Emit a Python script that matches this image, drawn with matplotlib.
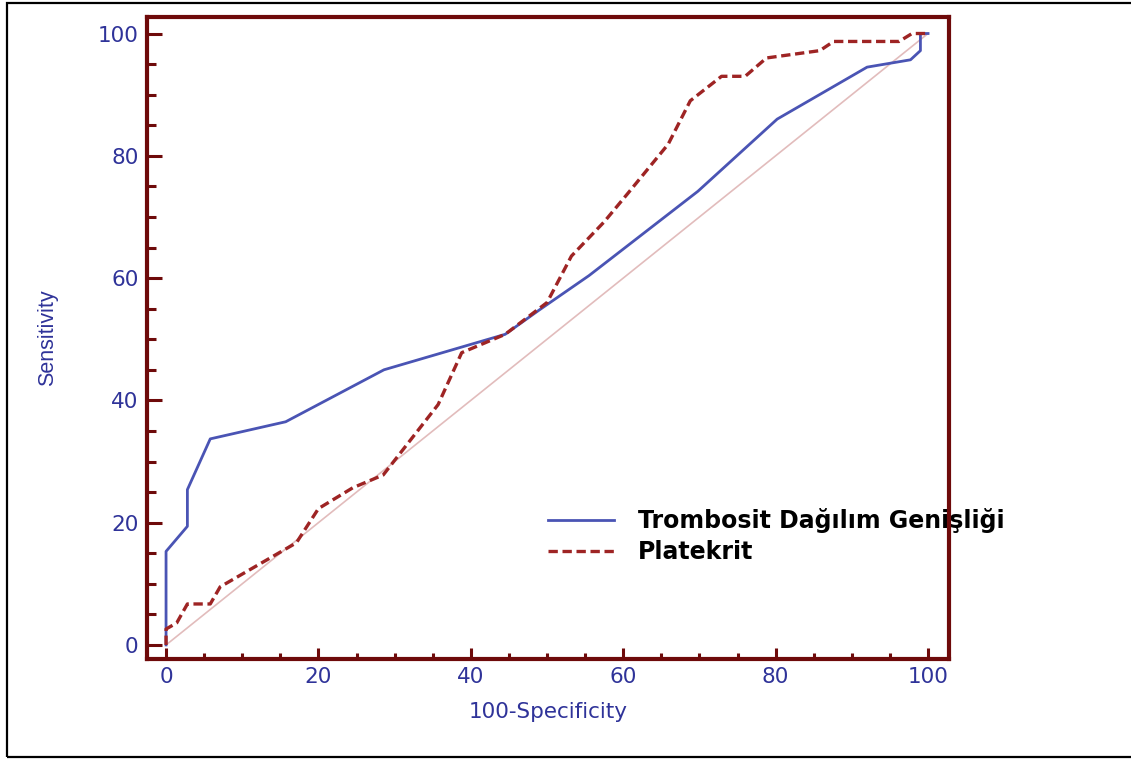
import matplotlib
matplotlib.use("Agg")
import matplotlib.pyplot as plt
from matplotlib.patches import Rectangle
from matplotlib.ticker import MultipleLocator

# ROC curve points (100-Specificity, Sensitivity)
tdg_x = [0, 0, 2.8, 2.8, 5.8, 15.7, 28.6, 44.5, 49, 55.5, 69.8, 80.2, 92, 97.7, 99, 99, 100]
tdg_y = [0, 15.3, 19.4, 25.4, 33.7, 36.5, 45, 50.8, 54.8, 60.4, 74.2, 86, 94.5, 95.7, 97.2, 100, 100]

pct_x = [0, 0, 1.4, 2.8, 5.8, 7.1, 17.1, 20, 24.5, 28.5, 35.7, 38.8, 44.5, 50, 53.2,
         57.5, 60.7, 65.9, 68.8, 72.9, 76, 78.8, 85.8, 87.6, 96.2, 97.9, 100]
pct_y = [0, 2.6, 3.6, 6.7, 6.7, 9.5, 16.7, 22.3, 25.7, 27.8, 39.3, 47.8, 50.8, 56, 63.6,
         69.2, 74, 81.9, 89, 93, 93, 96, 97.2, 98.7, 98.7, 100, 100]

ref_x = [0, 100]
ref_y = [0, 100]

labels = ["Trombosit Dağılım Genişliği", "Platekrit"]
xticks = [0, 20, 40, 60, 80, 100]
yticks = [0, 20, 40, 60, 80, 100]

spine_col = "#6e0a0a"
text_col = "#2f3399"

fig = plt.figure(figsize=(11.31, 7.6), dpi=100)
ax = fig.add_axes([147 / 1131, 1 - 659 / 760, (949 - 147) / 1131, (659 - 17) / 760])

ax.plot(ref_x, ref_y, color="#e2bcbc", lw=1.2, zorder=1)
ax.plot(tdg_x, tdg_y, color="#4a54b4", lw=2.0, label=labels[0], zorder=3)
ax.plot(pct_x, pct_y, color="#9e2424", lw=2.4, ls=(0, (2.8, 1.4)), label=labels[1], zorder=3)

ax.set_xlim(-2.5, 102.75)
ax.set_ylim(-2.3, 102.7)
ax.set_xticks(xticks)
ax.set_yticks(yticks)
ax.xaxis.set_minor_locator(MultipleLocator(5))
ax.yaxis.set_minor_locator(MultipleLocator(5))

for s in ax.spines.values():
    s.set_color(spine_col)
    s.set_linewidth(3.0)

ax.tick_params(axis="both", which="both", direction="in", color=spine_col, width=2.2,
               labelcolor=text_col, labelsize=15.5)
ax.tick_params(axis="y", which="major", length=10.5, pad=6)
ax.tick_params(axis="y", which="minor", length=6.5)
ax.tick_params(axis="x", which="major", length=8, pad=6)
ax.tick_params(axis="x", which="minor", length=4.3)
for t in ax.get_xticklabels() + ax.get_yticklabels():
    t.set_family("DejaVu Sans")

fig.text(548 / 1131, 1 - 712 / 760, "100-Specificity", ha="center", va="center",
         color=text_col, fontsize=15.5, family="DejaVu Sans")
fig.text(48 / 1131, 1 - 338 / 760, "Sensitivity", ha="center", va="center", rotation=90,
         color=text_col, fontsize=15.5, family="Liberation Sans")

leg = ax.legend(loc="upper left", bbox_to_anchor=(548 / 1131, 1 - 508 / 760),
                bbox_transform=fig.transFigure, frameon=False, borderpad=0, borderaxespad=0,
                handlelength=2.8, handletextpad=1.0, labelspacing=0.3,
                prop={"family": "DejaVu Sans", "weight": "bold", "size": 17})
leg.set_zorder(2)

# outer frame around the picture
fig.add_artist(Rectangle((7 / 1131, 3 / 760), 1.1, 1 - 6 / 760, transform=fig.transFigure,
                         fill=False, edgecolor="black", lw=1.6, clip_on=False))

fig.savefig("out.png", dpi=100)
